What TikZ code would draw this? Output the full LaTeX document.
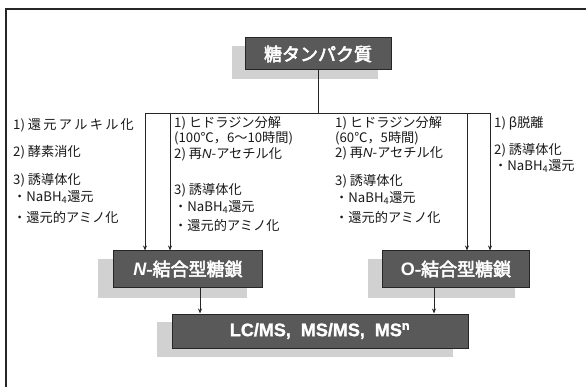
\documentclass[tikz,border=0pt]{standalone}
\usepackage{fontspec}
\setmainfont{Noto Sans CJK JP}
\newfontfamily\latinfont{Liberation Sans}
\newfontfamily\heavy{Noto Sans CJK JP}[FakeBold=3]
\newfontfamily\lcfont{Liberation Sans}[FakeBold=1.5]
\usetikzlibrary{arrows.meta}
\newcommand{\itN}{{\latinfont\itshape N}}
\tikzset{
  frameline/.style={line width=1.2pt, black!85},
  conn/.style={line width=0.8pt, black!85},
  arr/.style={conn, -{Stealth[length=5pt,width=4pt]}},
  txt/.style={anchor=west, inner sep=0pt, font=\fontsize{13.2}{15}\selectfont, text=black!90},
  darkbox/.style={draw=black!85, line width=1pt, fill=black!65, text=white, inner sep=0pt},
  shade/.style={fill=black!18, draw=none}
}
\begin{document}
\begin{tikzpicture}[x=1pt,y=-1pt]
\useasboundingbox (0,0) rectangle (586,387);
% frame
\draw[frameline] (6,387) -- (6,9) -- (586,9);

% shadows
\fill[shade] (232,46) rectangle (378,79);
\fill[shade] (98,259) rectangle (247,298);
\fill[shade] (368,259) rectangle (515,298);
\fill[shade] (157,322) rectangle (453,357);

% boxes
\node[darkbox, minimum width=146pt, minimum height=32pt, font=\heavy\fontsize{18}{18}\selectfont] (title) at (318,54) {糖タンパク質};
\node[darkbox, minimum width=149pt, minimum height=36pt, font=\heavy\fontsize{18}{18}\selectfont] (nbox) at (188,269) {{\latinfont\bfseries\itshape N}-結合型糖鎖};
\node[darkbox, minimum width=147pt, minimum height=36pt, font=\heavy\fontsize{18}{18}\selectfont] (obox) at (456,269) {{\latinfont\bfseries O}-結合型糖鎖};
\node[darkbox, minimum width=296pt, minimum height=34pt, font=\lcfont\bfseries\fontsize{18}{18}\selectfont] (lc) at (320,331) {LC/MS,\ \ MS/MS,\ \ MS\textsuperscript{n}};

% junctions
\coordinate (j0) at (318,113);
\coordinate (j1) at (145,113);
\coordinate (j2) at (170,113);
\coordinate (j3) at (467,113);
\coordinate (j4) at (490,113);

\draw[conn] (title.south) -- (j0);
\draw[conn] (j1) -- (j4);
\draw[arr] (j1) -- (j1 |- nbox.north);
\draw[arr] (j2) -- (j2 |- nbox.north);
\draw[arr] (j3) -- (j3 |- obox.north);
\draw[arr] (j4) -- (j4 |- obox.north);
\draw[arr] ([xshift=12pt]nbox.south) -- ([xshift=12pt]nbox.south |- lc.north);
\draw[arr] ([xshift=-22pt]obox.south) -- ([xshift=-22pt]obox.south |- lc.north);

% column 1
\node[txt] (a1) at (13,125) {1) \makebox[106pt][s]{還\hfil 元\hfil ア\hfil ル\hfil キ\hfil ル\hfil 化}};
\node[txt] (a2) at (13,152) {2) 酵素消化};
\node[txt] (a3) at (13,180) {3) 誘導体化};
\node[txt] (a4) at (13,197) {・NaBH\textsubscript{4}還元};
\node[txt] (a5) at (13,217) {・還元的アミノ化};

% column 2
\node[txt] (b1) at (174,123) {1) ヒドラジン分解};
\node[txt] (b2) at (174,138) {(100℃，6〜10時間)};
\node[txt] (b3) at (174,154) {2) 再\itN-アセチル化};
\node[txt] (b4) at (174,190) {3) 誘導体化};
\node[txt] (b5) at (174,207) {・NaBH\textsubscript{4}還元};
\node[txt] (b6) at (174,225) {・還元的アミノ化};

% column 3
\node[txt] (c1) at (335,123) {1) ヒドラジン分解};
\node[txt] (c2) at (335,138) {(60℃，5時間)};
\node[txt] (c3) at (335,153) {2) 再\itN-アセチル化};
\node[txt] (c4) at (335,181) {3) 誘導体化};
\node[txt] (c5) at (335,198) {・NaBH\textsubscript{4}還元};
\node[txt] (c6) at (335,217) {・還元的アミノ化};

% column 4
\node[txt] (d1) at (494,123) {1) β脱離};
\node[txt] (d2) at (494,150) {2) 誘導体化};
\node[txt] (d3) at (494,166) {・NaBH\textsubscript{4}還元};
\end{tikzpicture}
\end{document}
